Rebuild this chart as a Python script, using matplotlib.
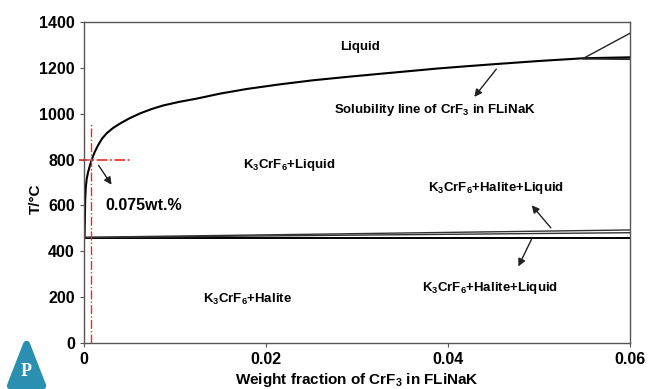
import matplotlib.pyplot as plt
from matplotlib.patches import Polygon

plt.rcParams['font.family'] = ['Liberation Sans', 'DejaVu Sans']
plt.rcParams['font.weight'] = 'bold'
plt.rcParams['axes.labelweight'] = 'bold'
plt.rcParams['mathtext.fontset'] = 'custom'
plt.rcParams['mathtext.rm'] = 'Liberation Sans:bold'
plt.rcParams['mathtext.it'] = 'Liberation Sans:bold'
plt.rcParams['mathtext.bf'] = 'Liberation Sans:bold'

# liquidus (solubility line of CrF3 in FLiNaK)
liq_x = [0.00006, 0.0001, 0.00013, 0.0002, 0.0003, 0.00045, 0.00066, 0.00085, 0.0012,
         0.00157, 0.002, 0.0025, 0.0032, 0.004, 0.005, 0.0062, 0.0074, 0.0087, 0.0105,
         0.0124, 0.015, 0.0179, 0.0215, 0.0252, 0.029, 0.0325, 0.0358, 0.0388, 0.042,
         0.0454, 0.050, 0.0549, 0.06]
liq_t = [458, 540, 624, 680, 716, 745, 775, 800, 835,
         864, 892, 915, 938, 958, 980, 1002, 1020, 1036, 1052,
         1066, 1088, 1108, 1128, 1146, 1161, 1174, 1186, 1197, 1207,
         1217, 1230, 1242, 1246]

# second branch near the right top
br_x = [0.0549, 0.06]
br_t = [1242, 1351]
flat_x = [0.0549, 0.06]
flat_t = [1240, 1238]

# low-temperature lines
low_x = [0.0, 0.06]
low1_t = [458, 458]
low2_t = [460, 481]
low3_t = [461, 493]

# 0.075 wt.% marker
mark_x = 0.00073
mark_t = 800

fig = plt.figure(figsize=(6.48, 3.89), dpi=100)
ax = fig.add_axes([0.1296, 0.1183, 0.8426, 0.8251])

ax.plot(liq_x, liq_t, color='black', lw=1.5)
ax.plot(br_x, br_t, color='#222222', lw=1.0)
ax.plot(flat_x, flat_t, color='#222222', lw=1.3)
ax.plot(low_x, low1_t, color='black', lw=1.4)
ax.plot(low_x, low2_t, color='#333333', lw=1.0)
ax.plot(low_x, low3_t, color='#333333', lw=1.0)

ax.plot([mark_x, mark_x], [0, 960], color='#e0302a', lw=1.0, ls='-.')
ax.plot([-0.0006, 0.0053], [mark_t, mark_t], color='#e0302a', lw=1.2, ls='-.',
        clip_on=False)

arrow = dict(arrowstyle='-|>', color='#222222', lw=1.0, mutation_scale=11)
ax.annotate('', xy=(0.0032, 680), xytext=(0.00143, 785), arrowprops=arrow)
ax.annotate('', xy=(0.0427, 1064), xytext=(0.0455, 1204), arrowprops=arrow)
ax.annotate('', xy=(0.049, 610), xytext=(0.0515, 493), arrowprops=arrow)
ax.annotate('', xy=(0.0476, 323), xytext=(0.0493, 462), arrowprops=arrow)

fs = 9.5
ax.text(0.0303, 1291, 'Liquid', ha='center', va='center', fontsize=fs)
ax.text(0.0386, 1016, 'Solubility line of CrF$_3$ in FLiNaK', ha='center', va='center', fontsize=fs)
ax.text(0.0225, 776, 'K$_3$CrF$_6$+Liquid', ha='center', va='center', fontsize=fs)
ax.text(0.0453, 676, 'K$_3$CrF$_6$+Halite+Liquid', ha='center', va='center', fontsize=fs)
ax.text(0.0446, 240, 'K$_3$CrF$_6$+Halite+Liquid', ha='center', va='center', fontsize=fs)
ax.text(0.018, 188, 'K$_3$CrF$_6$+Halite', ha='center', va='center', fontsize=fs)
ax.text(0.0024, 598, '0.075wt.%', ha='left', va='center', fontsize=11.5)

ax.set_xlim(0, 0.06)
ax.set_ylim(0, 1400)
ax.set_xticks([0, 0.02, 0.04, 0.06])
ax.set_xticklabels(['0', '0.02', '0.04', '0.06'])
ax.set_yticks(range(0, 1401, 200))
ax.tick_params(labelsize=11.5, length=3, color='#555555')
for lab in ax.get_xticklabels() + ax.get_yticklabels():
    lab.set_fontweight('bold')
for s in ax.spines.values():
    s.set_color('#555555')
    s.set_linewidth(1.0)
ax.set_xlabel('Weight fraction of CrF$_3$ in FLiNaK', fontsize=11, labelpad=3)
ax.set_ylabel('T/°C', fontsize=11)
ax.yaxis.set_label_coords(-0.075, 0.45)

# publisher logo
tri = Polygon([[0.016, 0.008], [0.066, 0.008], [0.041, 0.115]], closed=True,
              transform=fig.transFigure, facecolor='#2a8fb0', edgecolor='#2a8fb0',
              lw=5, joinstyle='round')
fig.patches.append(tri)
fig.text(0.041, 0.045, 'P', color='white', fontsize=13, ha='center', va='center',
         family='Liberation Serif', weight='bold')

fig.savefig('out.png', dpi=100)
